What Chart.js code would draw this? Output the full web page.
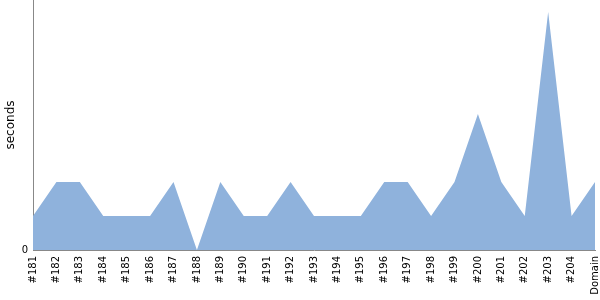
<!DOCTYPE html>
<html>
<head>
<meta charset="utf-8">
<script src="https://cdn.jsdelivr.net/npm/chart.js@4"></script>
<style>
  html, body { margin: 0; padding: 0; background: #fff; }
  #wrap { width: 600px; height: 300px; }
</style>
</head>
<body>
<div id="wrap"><canvas id="myChart" width="600" height="300"></canvas></div>
<script>
// build labels and durations (seconds)
const builds = ['#181','#182','#183','#184','#185','#186','#187','#188','#189','#190',
  '#191','#192','#193','#194','#195','#196','#197','#198','#199','#200',
  '#201','#202','#203','#204','Domain'];
const seconds = [1, 2, 2, 1, 1, 1, 2, 0, 2, 1, 1, 2, 1, 1, 1, 2, 2, 1, 2, 4, 2, 1, 7, 1, 2];
const yTicks = [0];
const yMax = 7.35;

const chart = new Chart('myChart', {
  type: 'line',
  data: {
    labels: builds,
    datasets: [{
      label: 'seconds',
      data: seconds,
      fill: 'origin',
      tension: 0,
      borderWidth: 0,
      borderColor: 'rgba(0,0,0,0)',
      backgroundColor: 'rgb(143,178,220)',
      pointRadius: 0
    }]
  },
  options: {
    responsive: false,
    animation: false,
    layout: { padding: { top: 0, right: 5, left: 0, bottom: 0 } },
    plugins: { legend: { display: false }, tooltip: { enabled: false } },
    scales: {
      x: {
        offset: false,
        grid: { display: false, drawTicks: true, tickLength: 4, color: '#888' },
        border: { color: '#888', width: 1 },
        ticks: {
          color: '#000',
          font: { family: 'DejaVu Sans', size: 10 },
          minRotation: 90,
          maxRotation: 90,
          autoSkip: false,
          padding: 2
        },
        afterFit: s => { s.height = 50; s.paddingLeft = 0; s.paddingRight = 0; }
      },
      y: {
        min: 0,
        max: yMax,
        grid: { display: false, tickLength: 4 },
        border: { color: '#888', width: 1 },
        afterBuildTicks: s => { s.ticks = yTicks.map(v => ({ value: v })); },
        ticks: {
          color: '#000',
          font: { family: 'DejaVu Sans', size: 10 },
          padding: 1
        },
        title: {
          display: true,
          text: 'seconds',
          color: '#000',
          font: { family: 'DejaVu Sans', size: 12 },
          padding: { top: 4, bottom: 0 }
        },
        afterFit: s => { s.width = 33; s.paddingTop = 0; s.paddingBottom = 0; }
      }
    }
  }
});
</script>
</body>
</html>
